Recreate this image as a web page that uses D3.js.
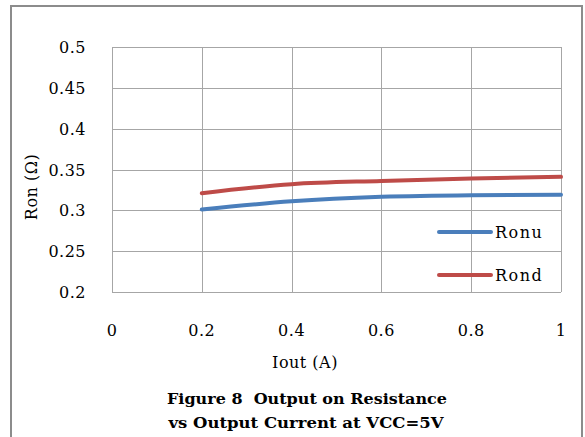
<!DOCTYPE html>
<meta charset="utf-8">
<html>
<head>
    <style>
        body { margin: 0; background: #fff; }
        text { font-family: "DejaVu Serif", "Liberation Serif", serif; fill: #000; }
        .tick-label { font-size: 16px; letter-spacing: 0.5px; }
        .legend-label { font-size: 16px; letter-spacing: 1.5px; }
        .axis-title { font-size: 16px; letter-spacing: 0.5px; }
        .fig-title { font-size: 15px; font-weight: bold; white-space: pre; }
    </style>
    <script src="https://cdn.jsdelivr.net/npm/d3@7"></script>
</head>
<body>
<div id="chart"></div>
<script>
    // data
    const iout = [0.2, 0.4, 0.6, 0.8, 1.0];
    const ronu = [0.301, 0.311, 0.3165, 0.3185, 0.319];
    const rond = [0.321, 0.332, 0.336, 0.339, 0.341];
    const seriesNames = ["Ronu", "Rond"];
    const seriesColors = ["#4a7ebb", "#be4b48"];
    const xTicks = [0, 0.2, 0.4, 0.6, 0.8, 1];
    const yTicks = [0.2, 0.25, 0.3, 0.35, 0.4, 0.45, 0.5];

    const W = 585, H = 437;
    const plot = {left: 112, top: 47, right: 561, bottom: 292};

    const svg = d3.select("#chart").append("svg")
        .attr("width", W)
        .attr("height", H);

    // outer frame (bottom edge runs off the picture)
    svg.append("path")
        .attr("d", "M11," + (H + 2) + "V6H582V" + (H + 2))
        .attr("fill", "none")
        .attr("stroke", "#8c8c8c")
        .attr("stroke-width", 2);

    const x = d3.scaleLinear().domain([0, 1]).range([plot.left, plot.right]);
    const y = d3.scaleLinear().domain([0.2, 0.5]).range([plot.bottom, plot.top]);

    // grid
    svg.append("g").selectAll("line.h")
        .data(yTicks)
        .enter().append("line")
        .attr("x1", plot.left).attr("x2", plot.right)
        .attr("y1", d => Math.round(y(d)) + 0.5).attr("y2", d => Math.round(y(d)) + 0.5)
        .attr("stroke", "#a6a6a6");
    svg.append("g").selectAll("line.v")
        .data(xTicks)
        .enter().append("line")
        .attr("y1", plot.top).attr("y2", plot.bottom)
        .attr("x1", d => Math.round(x(d)) + 0.5).attr("x2", d => Math.round(x(d)) + 0.5)
        .attr("stroke", "#a6a6a6");

    // tick labels
    svg.append("g").selectAll("text")
        .data(yTicks)
        .enter().append("text")
        .attr("class", "tick-label")
        .attr("x", 86)
        .attr("y", d => y(d) + 6)
        .attr("text-anchor", "end")
        .text(d => d);
    svg.append("g").selectAll("text")
        .data(xTicks)
        .enter().append("text")
        .attr("class", "tick-label")
        .attr("x", d => x(d))
        .attr("y", 336)
        .attr("text-anchor", "middle")
        .text(d => d);

    // axis titles
    svg.append("text")
        .attr("class", "axis-title")
        .attr("transform", "translate(37,187) rotate(-90)")
        .attr("text-anchor", "middle")
        .text("Ron (Ω)");
    svg.append("text")
        .attr("class", "axis-title")
        .attr("x", 305)
        .attr("y", 368)
        .attr("text-anchor", "middle")
        .text("Iout (A)");

    // series
    const line = d3.line()
        .x(d => x(d[0]))
        .y(d => y(d[1]))
        .curve(d3.curveMonotoneX);
    [ronu, rond].forEach((vals, i) => {
        svg.append("path")
            .datum(iout.map((v, j) => [v, vals[j]]))
            .attr("d", line)
            .attr("fill", "none")
            .attr("stroke", seriesColors[i])
            .attr("stroke-width", 4)
            .attr("stroke-linecap", "round");
    });

    // legend
    const legend = svg.append("g").selectAll("g")
        .data(seriesNames)
        .enter().append("g")
        .attr("transform", (d, i) => "translate(0," + (232 + i * 43) + ")");
    legend.append("line")
        .attr("x1", 439).attr("x2", 491)
        .attr("stroke", (d, i) => seriesColors[i])
        .attr("stroke-width", 4)
        .attr("stroke-linecap", "round");
    legend.append("text")
        .attr("class", "legend-label")
        .attr("x", 495)
        .attr("y", 6)
        .text(d => d);

    // figure caption
    svg.append("text")
        .attr("class", "fig-title")
        .attr("x", 307)
        .attr("y", 404)
        .attr("text-anchor", "middle")
        .attr("textLength", 280)
        .attr("lengthAdjust", "spacingAndGlyphs")
        .text("Figure 8  Output on Resistance");
    svg.append("text")
        .attr("class", "fig-title")
        .attr("x", 306)
        .attr("y", 428)
        .attr("text-anchor", "middle")
        .attr("textLength", 275)
        .attr("lengthAdjust", "spacingAndGlyphs")
        .text("vs Output Current at VCC=5V");
</script>
</body>
</html>
